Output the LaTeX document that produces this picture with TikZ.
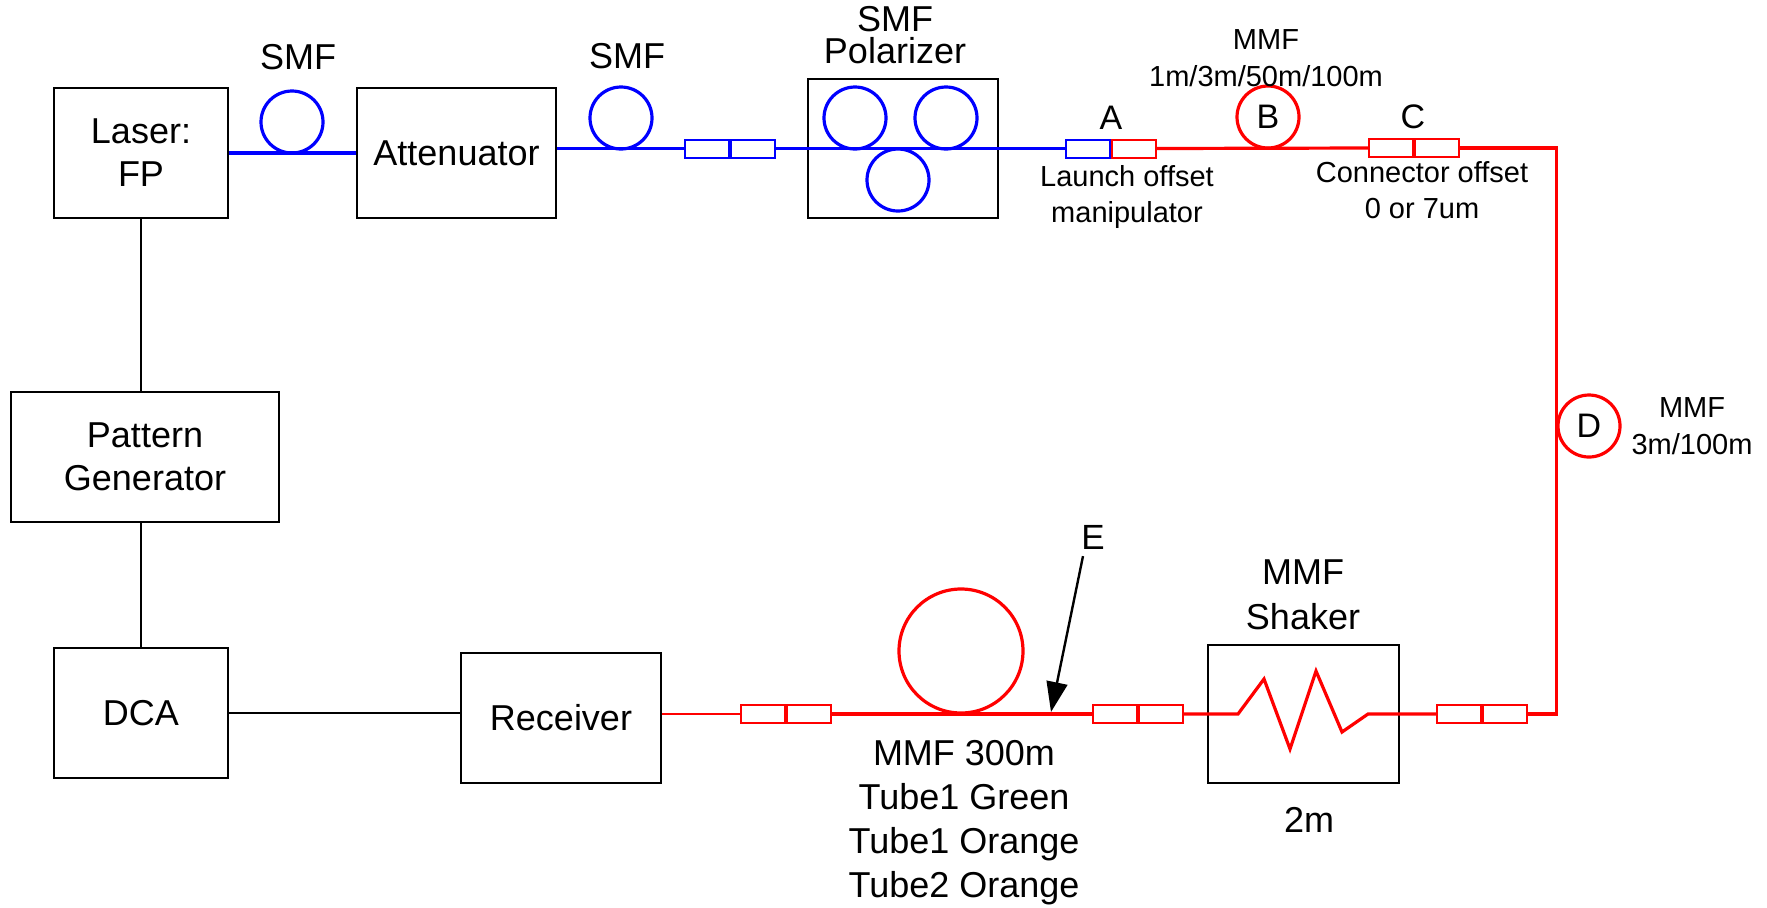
\documentclass[tikz,border=0pt]{standalone}
\usepackage{fontspec}
\setmainfont{Liberation Sans}
\usetikzlibrary{arrows.meta}
\newcommand\bigfont{\fontsize{18}{21.5}\selectfont}
\newcommand\smallfont{\fontsize{14.5}{18}\selectfont}
\newcommand\letterfont{\fontsize{17}{18}\selectfont}
\tikzset{
  dev/.style={draw, line width=1pt, minimum height=65pt, align=center, font=\bigfont},
  coil/.style={circle, draw=#1, line width=1.6pt, minimum size=31pt, inner sep=0pt, font=\letterfont},
  half/.style={draw=#1, line width=1pt, minimum width=22pt, minimum height=9pt, inner sep=0pt},
  smf/.style={blue, line width=1.6pt},
  mmf/.style={red, line width=1.6pt},
  wire/.style={line width=0.75pt},
  lbl/.style={align=center, font=\bigfont},
  note/.style={align=center, font=\smallfont},
}
% two halves of a fibre connector: name, x, y, left colour, right colour
\newcommand\plug[5]{%
  \node[half=#4, anchor=east] (#1l) at (#2,#3) {};
  \node[half=#5, anchor=west] (#1r) at (#2,#3) {};}
\begin{document}
\begin{tikzpicture}[x=0.5pt, y=-0.5pt]
\useasboundingbox (0,0) rectangle (1767,907);
% instruments
\node[dev, minimum width=87pt] (laser) at (141,153) {Laser:\\FP};
\node[dev, minimum width=99.5pt] (atten) at (456.5,153) {Attenuator};
\node[dev, minimum width=95pt, minimum height=69.5pt] (polar) at (903,148.5) {};
\node[dev, minimum width=134pt] (pg) at (145,457) {Pattern\\Generator};
\node[dev, minimum width=87pt] (dca) at (141,713) {DCA};
\node[dev, minimum width=100pt] (recv) at (561,718) {Receiver};
\node[dev, minimum width=95.5pt, minimum height=69pt] (shaker) at (1303.5,714) {};
% fibre coils
\node[coil=blue] (smfa) at (292,122) {};
\node[coil=blue] (smfb) at (621,118) {};
\node[coil=blue] (pola) at (855,118) {};
\node[coil=blue] (polb) at (946,118) {};
\node[coil=blue] (polc) at (898,180) {};
\node[coil=red] (coilB) at (1268,117) {B};
\node[coil=red] (coilD) at (1589,426) {D};
\node[coil=red, minimum size=62pt] (coilE) at (961,651) {};
% connectors
\plug{ka}{729.5}{148.5}{blue}{blue}
\plug{kA}{1111}{148.5}{blue}{red}
\plug{kC}{1414}{148}{red}{red}
\plug{kr}{1482}{714}{red}{red}
\plug{ks}{1138}{714}{red}{red}
\plug{kq}{786}{714}{red}{red}
% fibre
\draw[smf] (laser) -- (atten);
\draw[smf] (atten.east |- kal.west) -- (kal.west);
\draw[smf] (kar.east) -- (kAl.west);
\draw[mmf] (kAr.east) -- (kCl.west);
\draw[mmf] (kCr.east) -- (kCr.east -| coilD.west) -- (krr.east -| coilD.west) -- (krr.east);
\draw[mmf] (krl.west) -- (1368,714) -- (1342,732) -- (1316,671) -- (1290,749) -- (1264,679) -- (1238,714) -- (ksr.east);
\draw[mmf] (ksl.west) -- (kqr.east);
\draw[red, line width=0.8pt] (kql.west) -- (kql.west -| recv.east);
% electrical links
\draw[wire] (laser) -- (laser |- pg.north);
\draw[wire] (dca |- pg.south) -- (dca);
\draw[wire] (dca) -- (dca -| recv.west);
% labels
\node[lbl] (tSMFa) at (298,57) {SMF};
\node[lbl] (tSMFb) at (627,56) {SMF};
\node[lbl, font=\fontsize{18}{16}\selectfont] (tPol) at (895,35) {SMF\\Polarizer};
\node[note, font=\fontsize{14.5}{18.5}\selectfont] (tMMFb) at (1266,58) {MMF\\1m/3m/50m/100m};
\node[note] (tLaunch) at (1127,197) {Launch offset\\manipulator};
\node[note] (tOffset) at (1422,190) {Connector offset\\0 or 7um};
\node[note, font=\fontsize{14.5}{18.5}\selectfont] (tMMFd) at (1692,426) {MMF\\3m/100m};
\node[lbl, font=\fontsize{18}{22}\selectfont] (tMMFe) at (964,823) {MMF 300m\\Tube1 Green\\Tube1 Orange\\Tube2 Orange};
\node[lbl, font=\fontsize{18}{22.5}\selectfont] (tShaker) at (1303,595) {MMF\\Shaker};
\node[lbl] (tLen) at (1309,820) {2m};
\node[font=\letterfont] (tA) at (1111,118) {A};
\node[font=\letterfont] (tC) at (1413,117) {C};
\node[font=\fontsize{17.5}{20}\selectfont] (tE) at (1093,537) {E};
\coordinate (hitE) at (1051,712);
\draw[-{Triangle[length=15pt,width=10.5pt]}, line width=1.2pt] ([xshift=-5pt]tE.south) -- (hitE);
\end{tikzpicture}
\end{document}
